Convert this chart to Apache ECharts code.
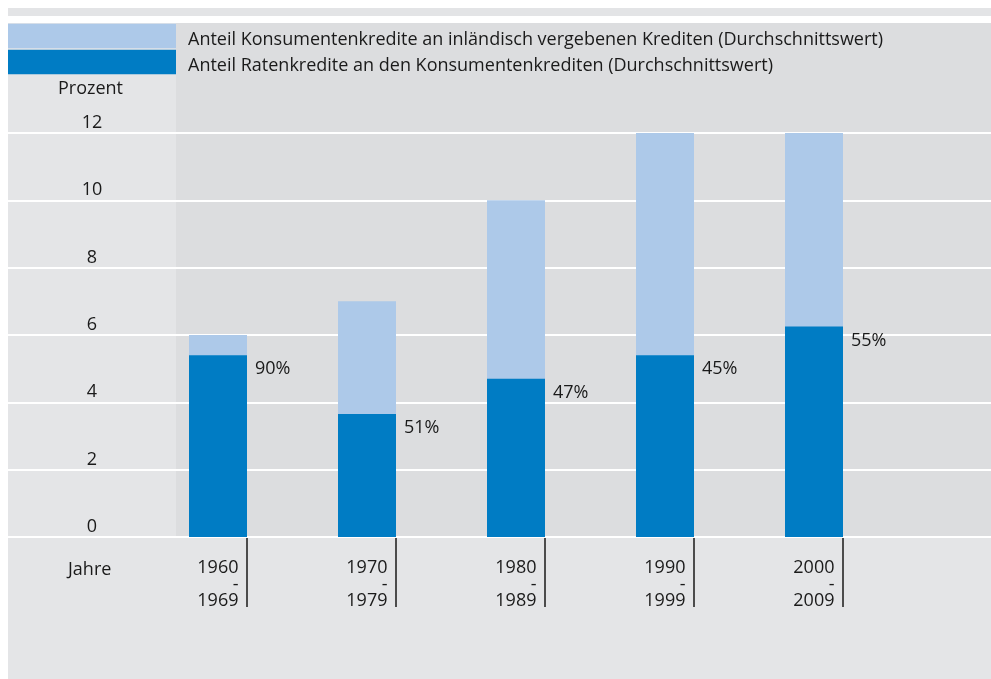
<!DOCTYPE html>
<html>
<head>
<meta charset="utf-8">
<script src="https://cdn.jsdelivr.net/npm/echarts@6/dist/echarts.min.js"></script>
<style>
  html, body { margin: 0; padding: 0; background: #ffffff; }
  #chart { width: 991px; height: 679px; }
</style>
</head>
<body>
<div id="chart"></div>
<script>
var periods = ['1960\n-\n1969', '1970\n-\n1979', '1980\n-\n1989', '1990\n-\n1999', '2000\n-\n2009'];
var konsumShare = [6, 7, 10, 12, 12];
var ratenShare = [5.4, 3.65, 4.7, 5.4, 6.25];
var ratenPercent = ['90%', '51%', '47%', '45%', '55%'];
var yTicks = [0, 2, 4, 6, 8, 10, 12];

var seriesNames = [
	'Anteil Konsumentenkredite an inländisch vergebenen Krediten (Durchschnittswert)',
	'Anteil Ratenkredite an den Konsumentenkrediten (Durchschnittswert)'
];

var fontFamily = '"Open Sans", "Noto Sans", sans-serif';
var fontSize = 18;
var textColor = '#1a1a1a';
var lightBlue = '#adc9e9';
var darkBlue = '#007cc4';

var chart = echarts.init(document.getElementById('chart'), null, { renderer: 'canvas' });

chart.setOption({
	backgroundColor: '#ffffff',
	animation: false,
	textStyle: { fontFamily: fontFamily },
	graphic: [
		// top band
		{ type: 'rect', shape: { x: 8, y: 8, width: 983, height: 8 }, style: { fill: '#e3e4e6' }, z: -10 },
		// left column + lower strip
		{ type: 'rect', shape: { x: 8, y: 23, width: 983, height: 656 }, style: { fill: '#e4e5e7' }, z: -10 },
		// plot area
		{ type: 'rect', shape: { x: 176, y: 23, width: 815, height: 514 }, style: { fill: '#dcdddf' }, z: -9 },
		{ type: 'text', left: 58, top: 80, style: { text: 'Prozent', font: fontSize + 'px ' + fontFamily, fill: textColor }, z: 5 },
		{ type: 'text', left: 68, top: 561, style: { text: 'Jahre', font: fontSize + 'px ' + fontFamily, fill: textColor }, z: 5 }
	],
	legend: {
		orient: 'vertical',
		left: 8,
		top: 23,
		padding: 0,
		itemWidth: 168,
		itemHeight: 24.5,
		itemGap: 0,
		icon: 'rect',
		selectedMode: false,
		data: seriesNames,
		formatter: '{t|{name}}',
		textStyle: {
			fontSize: fontSize, color: textColor, fontFamily: fontFamily,
			rich: {
				t: {
					fontSize: fontSize, color: textColor, fontFamily: fontFamily,
					lineHeight: 14, padding: [8, 0, 0, 7]
				}
			}
		}
	},
	grid: [
		// bars
		{ left: 143.5, width: 745, top: 133, bottom: 142 },
		// gridlines + y labels, full width
		{ left: 8, right: 0, top: 133, bottom: 142 },
		// period ticks and labels
		{ left: 246.5, width: 596, top: 133, bottom: 142 }
	],
	xAxis: [
		{ gridIndex: 0, type: 'category', data: periods, show: false },
		{ gridIndex: 1, type: 'value', show: false },
		{
			gridIndex: 2, type: 'category', data: periods, boundaryGap: false,
			axisLine: { show: false },
			axisTick: { show: true, length: 70, inside: false, lineStyle: { color: '#1a1a1a', width: 1.5 } },
			axisLabel: {
				interval: 0, margin: 23, align: 'right', padding: [0, 8, 0, 0],
				fontSize: fontSize, lineHeight: 16.5, color: textColor, fontFamily: fontFamily
			}
		}
	],
	yAxis: [
		{ gridIndex: 0, type: 'value', min: yTicks[0], max: yTicks[yTicks.length - 1], interval: 2, show: false },
		{
			gridIndex: 1, type: 'value', min: yTicks[0], max: yTicks[yTicks.length - 1], interval: 2,
			axisLine: { show: false },
			axisTick: { show: false },
			splitLine: { show: true, lineStyle: { color: '#ffffff', width: 2 } },
			axisLabel: {
				inside: true, margin: 84, align: 'center', verticalAlign: 'bottom',
				lineHeight: 20, padding: [0, 0, 0, 0],
				fontSize: fontSize, color: textColor, fontFamily: fontFamily
			},
			z: 3
		},
		{ gridIndex: 2, type: 'value', min: yTicks[0], max: yTicks[yTicks.length - 1], show: false }
	],
	series: [
		{
			name: seriesNames[0],
			type: 'bar',
			xAxisIndex: 0,
			yAxisIndex: 0,
			barWidth: 58,
			barGap: '-100%',
			itemStyle: { color: lightBlue },
			data: konsumShare,
			z: 4
		},
		{
			name: seriesNames[1],
			type: 'bar',
			xAxisIndex: 0,
			yAxisIndex: 0,
			barWidth: 58,
			barGap: '-100%',
			itemStyle: { color: darkBlue },
			data: ratenShare,
			z: 5,
			label: {
				show: true,
				position: [66, 14],
				align: 'left',
				verticalAlign: 'middle',
				fontSize: fontSize,
				color: textColor,
				fontFamily: fontFamily,
				formatter: function (p) { return ratenPercent[p.dataIndex]; }
			}
		}
	]
});
</script>
</body>
</html>
